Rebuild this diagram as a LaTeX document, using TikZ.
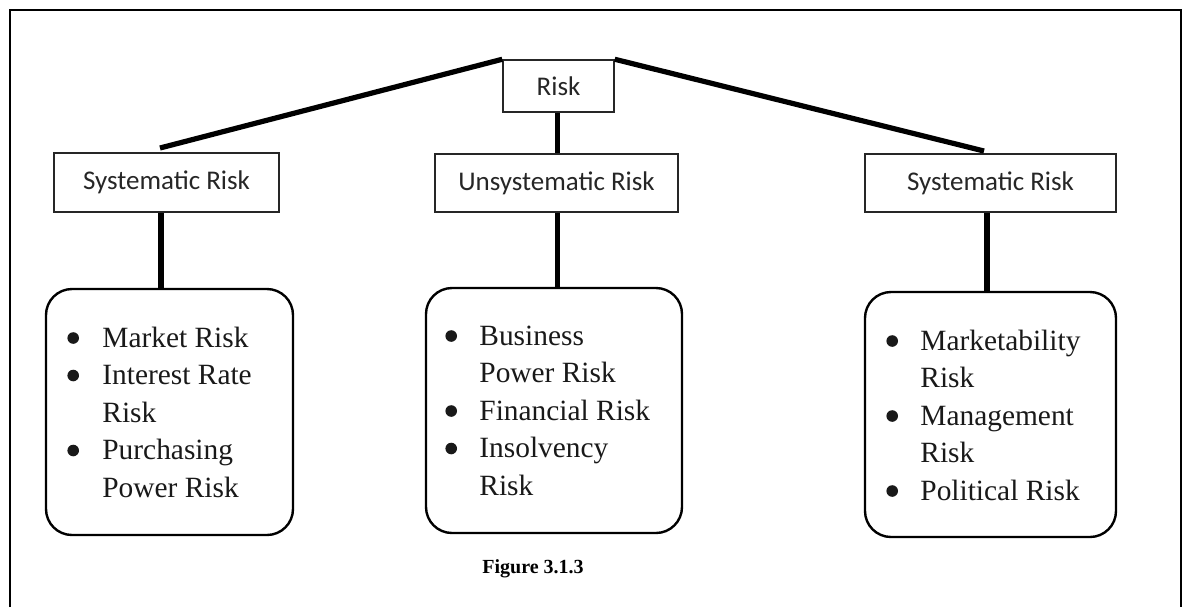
\documentclass[tikz,border=0pt]{standalone}
\usepackage{fontspec}
\setmainfont{Liberation Serif}
\newfontfamily\labelfont{Carlito}
% solid round bullet for the lists
\newcommand\listdot{\tikz[baseline={(0,-4.5pt)}]\fill (0,0) circle (2.9pt);}
\begin{document}
\begin{tikzpicture}[x=0.5pt,y=-0.5pt,
  labelbox/.style={draw=black!85, line width=0.75pt, inner sep=0pt,
    font=\labelfont\fontsize{13.5}{16}\selectfont, text=black!85},
  listbox/.style={draw, line width=1.2pt, rounded corners=13pt, inner sep=0pt},
  conn/.style={line width=2.6pt},
  listtext/.style={inner sep=0pt, anchor=base west,
    font=\fontsize{14.7}{18.75}\selectfont, text=black!90},
]
\useasboundingbox (0,0) rectangle (1188,607);
% page frame
\draw[line width=1pt] (10,607) -- (10,10) -- (1181,10) -- (1181,607);

% heading boxes
\node[labelbox, minimum width=55.5pt, minimum height=26pt] (risk) at (558.5,86) {Risk};
\node[labelbox, minimum width=112.5pt, minimum height=29.5pt] (sys1) at (166.5,182.5) {Systematic Risk};
\node[labelbox, minimum width=121.5pt, minimum height=29pt] (unsys) at (556.5,183) {Unsystematic Risk};
\node[labelbox, minimum width=125.5pt, minimum height=29pt] (sys2) at (990.5,183) {Systematic Risk};

% rounded list boxes
\node[listbox, minimum width=123.5pt, minimum height=123pt] (b1) at (169.5,412) {};
\node[listbox, minimum width=128pt, minimum height=122.5pt] (b2) at (554,410.5) {};
\node[listbox, minimum width=125.5pt, minimum height=122.5pt] (b3) at (990.5,414.5) {};

\node[listtext] (l1) at (67,347) {\begin{tabular}[t]{@{}p{17.5pt}@{}l@{}}
  \listdot & Market Risk\\
  \listdot & Interest Rate\\
           & Risk\\
  \listdot & Purchasing\\
           & Power Risk
\end{tabular}};
\node[listtext] (l2) at (445,345) {\begin{tabular}[t]{@{}p{17pt}@{}l@{}}
  \listdot & Business\\
           & Power Risk\\
  \listdot & Financial Risk\\
  \listdot & Insolvency\\
           & Risk
\end{tabular}};
\node[listtext] (l3) at (886,350) {\begin{tabular}[t]{@{}p{17pt}@{}l@{}}
  \listdot & Marketability\\
           & Risk\\
  \listdot & Management\\
           & Risk\\
  \listdot & Political Risk
\end{tabular}};

% caption
\node[anchor=base west, inner sep=0pt, font=\bfseries\fontsize{10}{12}\selectfont] (cap) at (482,573) {Figure 3.1.3};

% attachment points
\coordinate (a1) at (160,148);
\coordinate (a3) at (984,151);
\coordinate (v1) at (161,0);
\coordinate (v2) at (557.5,0);
\coordinate (v3) at (987,0);

% connectors
\draw[conn] (risk.north west) -- (a1);
\draw[conn] (risk.north east) -- (a3);
\draw[conn] (risk.south -| v2) -- (unsys.north -| v2);
\draw[conn] (sys1.south -| v1) -- (b1.north -| v1);
\draw[conn] (unsys.south -| v2) -- (b2.north -| v2);
\draw[conn] (sys2.south -| v3) -- (b3.north -| v3);
\end{tikzpicture}
\end{document}
